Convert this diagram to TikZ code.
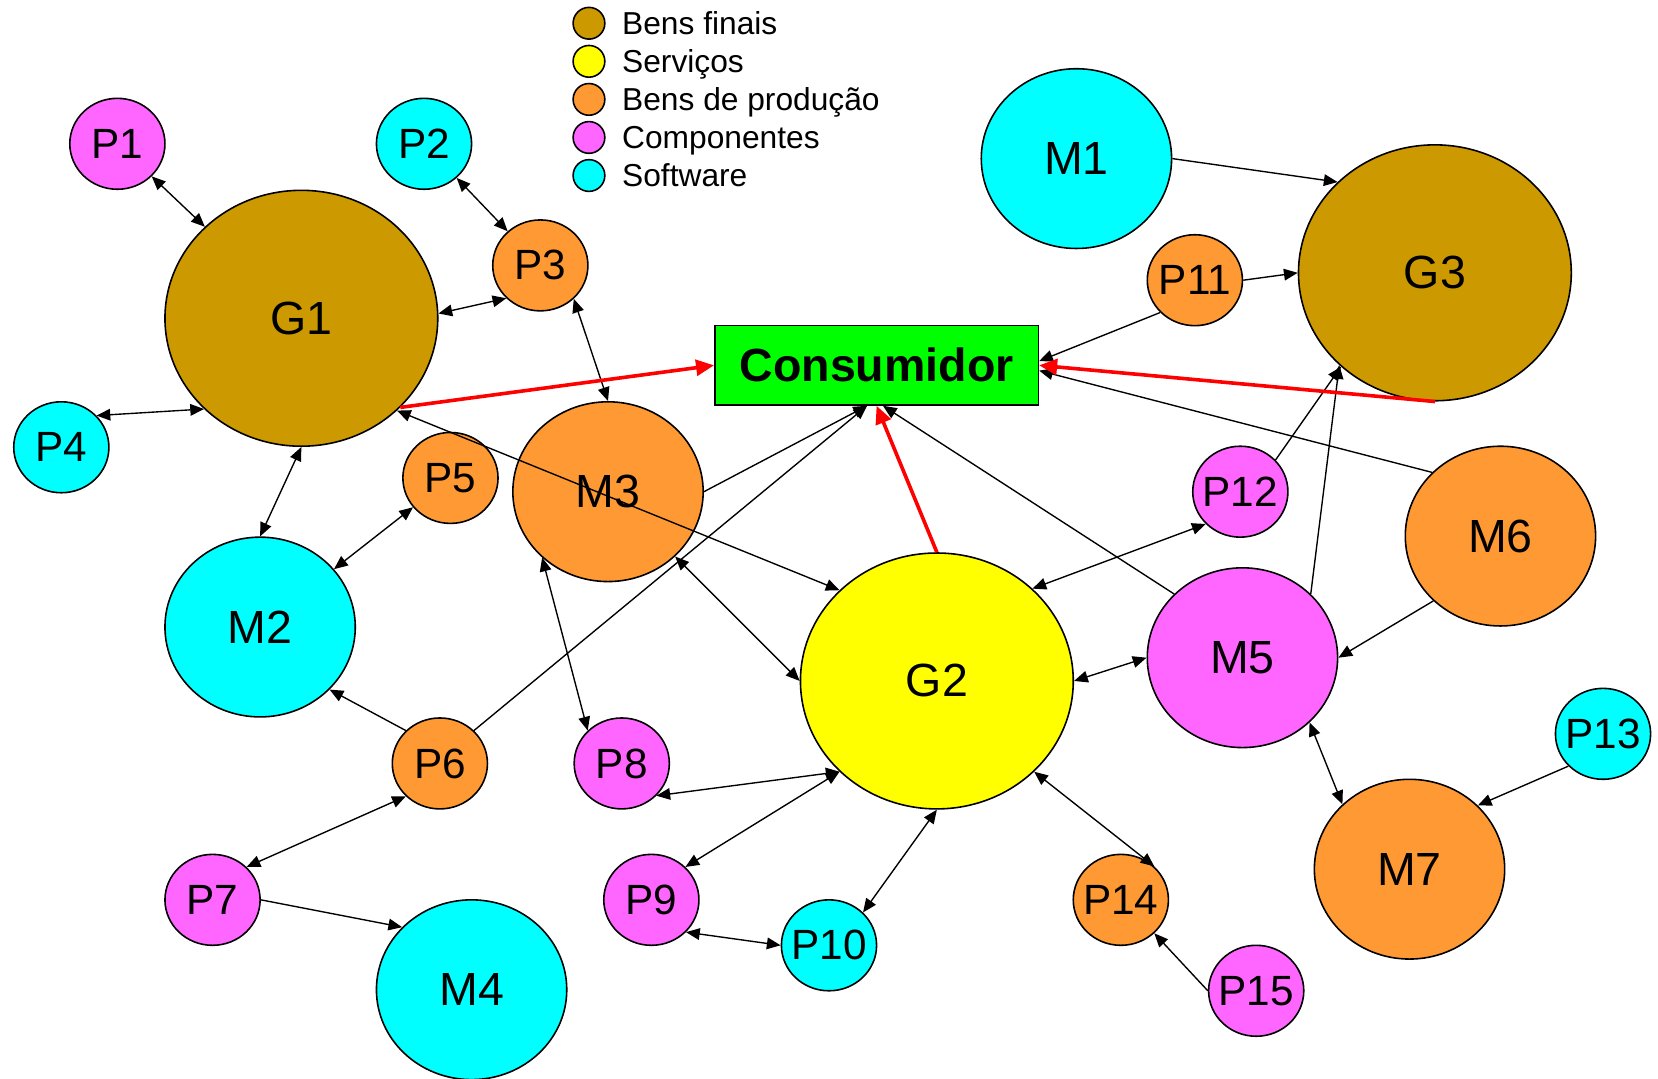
\documentclass[tikz,border=0pt]{standalone}
\usepackage{fontspec}
\setmainfont{Liberation Sans}
\usetikzlibrary{shapes.geometric,arrows.meta}

\definecolor{finais}{HTML}{CC9900}
\definecolor{servicos}{HTML}{FFFF00}
\definecolor{producao}{HTML}{FF9933}
\definecolor{componentes}{HTML}{FF66FF}
\definecolor{software}{HTML}{00FFFF}
\definecolor{consgreen}{HTML}{00FF00}

% zero-width label so that long names do not widen the small ellipses
\newcommand{\zw}[1]{\makebox[0pt]{#1}}

\begin{document}
\begin{tikzpicture}[x=0.5pt,y=-0.5pt,
  every node/.style={inner sep=0pt},
  agent/.style={ellipse, draw=black, line width=0.75pt},
  big/.style={agent, minimum width=129pt, minimum height=121pt, font=\fontsize{22}{26}\selectfont},
  mid/.style={agent, minimum width=90pt, minimum height=85pt, font=\fontsize{22}{26}\selectfont},
  small/.style={agent, minimum width=45pt, minimum height=43pt, font=\fontsize{20}{24}\selectfont},
  key/.style={circle, draw=black, line width=0.75pt, minimum size=15pt},
  keytext/.style={anchor=west, text height=10.7pt, text depth=0pt, font=\fontsize{15}{18}\selectfont},
  link/.style={line width=0.65pt, -{Triangle[length=6.5pt,width=5.5pt]}},
  both/.style={line width=0.65pt, {Triangle[length=6.5pt,width=5.5pt]}-{Triangle[length=6.5pt,width=5.5pt]}},
  flow/.style={draw=red, line width=1.7pt, -{Triangle[length=8.5pt,width=7.5pt]}}
]
\useasboundingbox (0,0) rectangle (1568,1020);

% legend
\node[key, fill=finais]      (k1) at (557,22)  {};
\node[key, fill=servicos]    (k2) at (557,58)  {};
\node[key, fill=producao]    (k3) at (557,94)  {};
\node[key, fill=componentes] (k4) at (557,130) {};
\node[key, fill=software]    (k5) at (557,166) {};
\node[keytext] (t1) at (588,22)  {Bens finais};
\node[keytext] (t2) at (588,58)  {Serviços};
\node[keytext] (t3) at (588,94)  {Bens de produção};
\node[keytext] (t4) at (588,130) {Componentes};
\node[keytext] (t5) at (588,166) {Software};

% consumer
\node[draw=black, line width=0.75pt, fill=consgreen, minimum width=153pt, minimum height=37.5pt,
      font=\bfseries\fontsize{22}{26}\selectfont] (cons) at (829,345.5) {Consumidor};
\coordinate (cs1) at ([xshift=-4.5pt]cons.south);
\coordinate (cs2) at ([xshift=3pt]cons.south);
\coordinate (ce1) at ([yshift=2pt]cons.east);
\coordinate (ce2) at ([yshift=-2.5pt]cons.east);

% large agents
\node[big, fill=finais]   (G1) at (285,301) {G1};
\node[big, fill=servicos] (G2) at (886,644) {G2};
\node[big, fill=finais]   (G3) at (1357,258) {G3};

% medium agents
\node[mid, fill=software]    (M1) at (1018,150) {M1};
\node[mid, fill=software]    (M2) at (246,593)  {M2};
\node[mid, fill=producao]    (M3) at (575,465)  {M3};
\node[mid, fill=software]    (M4) at (446,936)  {M4};
\node[mid, fill=componentes] (M5) at (1175,622) {M5};
\node[mid, fill=producao]    (M6) at (1419,507) {M6};
\node[mid, fill=producao]    (M7) at (1333,822) {M7};

% small agents
\node[small, fill=componentes] (P1)  at (111,136)  {\zw{P1}};
\node[small, fill=software]    (P2)  at (401,136)  {\zw{P2}};
\node[small, fill=producao]    (P3)  at (511,251)  {\zw{P3}};
\node[small, fill=software]    (P4)  at (58,423)   {\zw{P4}};
\node[small, fill=producao]    (P5)  at (426,452)  {\zw{P5}};
\node[small, fill=producao]    (P6)  at (416,722)  {\zw{P6}};
\node[small, fill=componentes] (P7)  at (201,851)  {\zw{P7}};
\node[small, fill=componentes] (P8)  at (588,722)  {\zw{P8}};
\node[small, fill=componentes] (P9)  at (616,851)  {\zw{P9}};
\node[small, fill=software]    (P10) at (784,894)  {\zw{P10}};
\node[small, fill=producao]    (P11) at (1130,265) {\zw{P11}};
\node[small, fill=componentes] (P12) at (1173,465) {\zw{P12}};
\node[small, fill=software]    (P13) at (1516,694) {\zw{P13}};
\node[small, fill=producao]    (P14) at (1060,851) {\zw{P14}};
\node[small, fill=componentes] (P15) at (1188,937) {\zw{P15}};

% links between agents
\draw[both] (P1) -- (G1);
\draw[both] (P2) -- (P3);
\draw[both] (G1.2) -- (P3.224);
\draw[both] (P4.42) -- (G1.223);
\draw[both] (P3.-45) -- (M3.north);
\draw[both] (G1.-44) -- (G2.137);
\draw[both] (G1.south) -- (M2.north);
\draw[both] (M2) -- (P5);
\draw[link] (M3.east) -- (cs1);
\draw[link] (P6.44) -- (cs1);
\draw[link] (M5.137) -- (cs2);
\draw[link] (P11.223) -- (ce1);
\draw[link] (M6.137) -- (ce2);
\draw[link] (M1.east) -- (G3.137);
\draw[link] (P11.east) -- (G3.west);
\draw[link] (P12.42) -- (G3.225);
\draw[link] (M5.43) -- (G3.224);
\draw[link] (M6.224) -- (M5.east);
\draw[both] (G2.44) -- (P12.223);
\draw[both] (G2.east) -- (M5.west);
\draw[both] (M3.-44) -- (G2.west);
\draw[both] (M3.225) -- (P8.136);
\draw[link] (P6.136) -- (M2.-42);
\draw[both] (P6.224) -- (P7.44);
\draw[link] (P7.east) -- (M4.138);
\draw[both] (P8.-43) -- (G2.223);
\draw[both] (P9.44) -- (G2.223);
\draw[both] (G2.south) -- (P10.44);
\draw[both] (P9.-43) -- (P10.west);
\draw[both] (G2.-43) -- (P14.45);
\draw[link] (P15.west) -- (P14.-45);
\draw[both] (M5.-44) -- (M7.136);
\draw[link] (P13.223) -- (M7.43);

% flows of final goods and services to the consumer
\draw[flow] (G1.-42) -- (cons.west);
\draw[flow] (G2.north) -- (cons.south);
\draw[flow] (G3.south) -- (cons.east);
\end{tikzpicture}
\end{document}
